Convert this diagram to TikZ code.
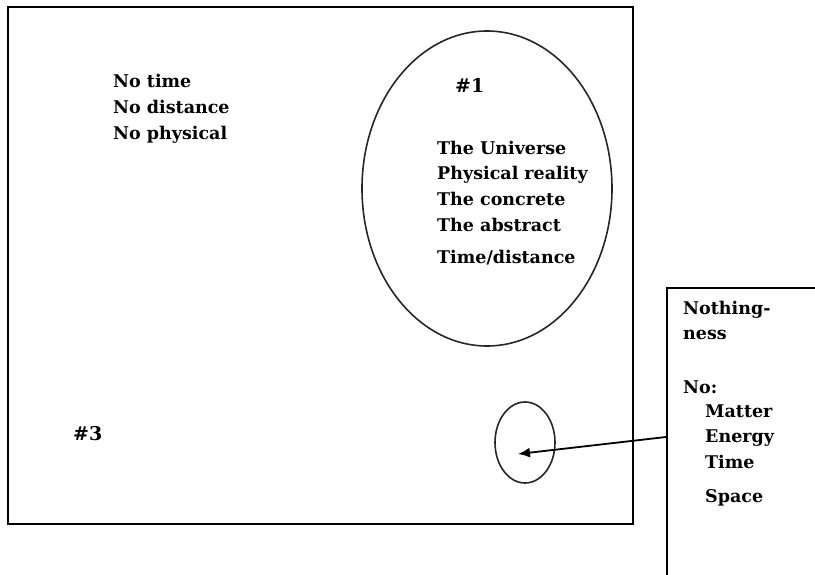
\documentclass[tikz,border=0pt]{standalone}
\usepackage{fontspec}
\setmainfont{DejaVu Serif}
\usetikzlibrary{arrows.meta,shapes.geometric}
\begin{document}
\begin{tikzpicture}[x=1pt,y=-1pt,
  frame/.style={draw=black,line width=2pt,rectangle,inner sep=0pt},
  oval/.style={draw=black!85,line width=1.6pt,ellipse,inner sep=0pt},
  txt/.style={anchor=base west,inner sep=0pt,font=\bfseries\fontsize{17.5}{20}\selectfont},
  big/.style={anchor=base west,inner sep=0pt,font=\bfseries\fontsize{19}{22}\selectfont},
  conn/.style={line width=1.8pt,-{Latex[length=12pt,width=10pt]}}]
\useasboundingbox (0,0) rectangle (815,575);
\clip (0,0) rectangle (815,575);
% main frame
\node[frame,minimum width=625pt,minimum height=517pt] (world) at (320.5,265.5) {};
% right box (runs off the picture)
\node[frame,minimum width=160pt,minimum height=300pt] (nbox) at (747,438) {};
% ellipses
\node[oval,minimum width=250pt,minimum height=315pt] (one) at (487,188.5) {};
\node[oval,minimum width=60pt,minimum height=81pt] (small) at (525,442.5) {};
% left texts
\node[txt] (t1) at (113,88) {No time};
\node[txt] (t2) at (113,114) {No distance};
\node[txt] (t3) at (113,140) {No physical};
\node[big] (h1) at (455,93) {\#1};
\node[big] (h3) at (73,440) {\#3};
% texts in ellipse
\node[txt] (u1) at (437,155) {The Universe};
\node[txt] (u2) at (437,180) {Physical reality};
\node[txt] (u3) at (437,206) {The concrete};
\node[txt] (u4) at (437,232) {The abstract};
\node[txt] (u5) at (437,263) {Time/distance};
% texts in right box
\node[txt] (n1) at (683,315) {Nothing-};
\node[txt] (n2) at (683,339) {ness};
\node[txt] (n3) at (683,393) {No:};
\node[txt] (n4) at (705,417) {Matter};
\node[txt] (n5) at (705,442) {Energy};
\node[txt] (n6) at (705,468) {Time};
\node[txt] (n7) at (705,502) {Space};
% arrow
\coordinate (src) at (nbox.west |- 0,437);
\coordinate (tip) at (518,454);
\draw[conn] (src) -- (tip);
\end{tikzpicture}
\end{document}
